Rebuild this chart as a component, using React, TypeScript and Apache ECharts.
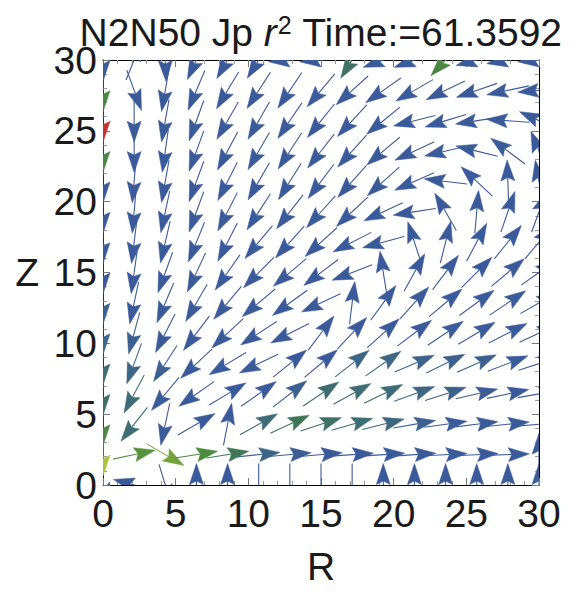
import React, { useEffect, useRef } from "react";
import * as echarts from "echarts";

// Sample points of the vector field (15 x 15 grid over 0..30)
const gridR = [0, 2.143, 4.286, 6.429, 8.571, 10.714, 12.857, 15, 17.143, 19.286, 21.429, 23.571, 25.714, 27.857, 30];
const gridZ = [0, 2.143, 4.286, 6.429, 8.571, 10.714, 12.857, 15, 17.143, 19.286, 21.429, 23.571, 25.714, 27.857, 30];

// Arrow direction (degrees, counter-clockwise from +R) per Z row, R columns
const dirZ00 = [300, 165, 287, 90, 90, 270, 270, 270, 270, 90, 90, 90, 90, 90, 90];
const dirZ01 = [270, 12, 330, 9, 9, 6, 5, 5, 4, 4, 4, 3, 3, 2, 90];
const dirZ02 = [270, 232, 258, 30, 79, 29, 25, 18, 16, 14, 10, 8, 7, 6, 5];
const dirZ03 = [270, 242, 230, 215, 31, 35, 38, 34, 29, 26, 20, 18, 13, 12, 10];
const dirZ04 = [270, 250, 237, 223, 211, 206, 39, 40, 38, 35, 23, 26, 24, 21, 18];
const dirZ05 = [270, 255, 243, 233, 223, 213, 207, 53, 47, 42, 37, 34, 31, 27, 25];
const dirZ06 = [270, 258, 247, 240, 230, 220, 216, 205, 83, 54, 48, 40, 36, 34, 30];
const dirZ07 = [270, 262, 250, 245, 235, 225, 220, 217, 201, 99, 61, 53, 45, 40, 35];
const dirZ08 = [270, 263, 257, 248, 243, 230, 228, 222, 207, 195, 108, 76, 62, 51, 50];
const dirZ09 = [270, 265, 258, 250, 243, 237, 232, 228, 223, 205, 189, 120, 85, 71, 70];
const dirZ10 = [270, 265, 260, 250, 243, 240, 238, 233, 228, 222, 204, 173, 137, 92, 100];
const dirZ11 = [270, 270, 262, 250, 242, 240, 237, 232, 228, 220, 205, 193, 166, 143, 112];
const dirZ12 = [270, 270, 260, 250, 240, 240, 236, 231, 227, 219, 194, 197, 189, 176, 155];
const dirZ13 = [270, 290, 260, 247, 239, 237, 236, 230, 222, 215, 210, 206, 199, 192, 185];
const dirZ14 = [270, 68, 272, 245, 240, 238, 185, 185, 238, 200, 200, 227, 195, 190, 185];

// Relative magnitude (0..1) per Z row, R columns (drives arrow colour)
const magZ00 = [0.1, 0.15, 0.15, 0.1, 0.1, 0.1, 0.1, 0.1, 0.1, 0.1, 0.1, 0.1, 0.1, 0.1, 0.1];
const magZ01 = [0.75, 0.55, 0.62, 0.52, 0.42, 0.25, 0.18, 0.15, 0.15, 0.13, 0.12, 0.12, 0.12, 0.12, 0.1];
const magZ02 = [0.5, 0.32, 0.12, 0.15, 0.12, 0.3, 0.42, 0.38, 0.32, 0.27, 0.2, 0.15, 0.13, 0.12, 0.12];
const magZ03 = [0.35, 0.3, 0.15, 0.12, 0.12, 0.15, 0.2, 0.32, 0.32, 0.3, 0.27, 0.22, 0.18, 0.15, 0.12];
const magZ04 = [0.32, 0.25, 0.2, 0.12, 0.1, 0.1, 0.12, 0.15, 0.25, 0.26, 0.22, 0.2, 0.2, 0.15, 0.12];
const magZ05 = [0.25, 0.2, 0.15, 0.1, 0.1, 0.1, 0.1, 0.12, 0.15, 0.15, 0.15, 0.15, 0.15, 0.12, 0.12];
const magZ06 = [0.2, 0.15, 0.12, 0.1, 0.1, 0.1, 0.1, 0.1, 0.1, 0.12, 0.12, 0.12, 0.12, 0.12, 0.1];
const magZ07 = [0.15, 0.1, 0.1, 0.1, 0.1, 0.1, 0.1, 0.1, 0.1, 0.1, 0.1, 0.1, 0.1, 0.1, 0.1];
const magZ08 = [0.15, 0.1, 0.1, 0.1, 0.1, 0.1, 0.1, 0.1, 0.1, 0.1, 0.1, 0.1, 0.1, 0.1, 0.1];
const magZ09 = [0.15, 0.1, 0.1, 0.1, 0.1, 0.1, 0.1, 0.1, 0.1, 0.1, 0.1, 0.1, 0.1, 0.1, 0.1];
const magZ10 = [0.15, 0.1, 0.1, 0.1, 0.1, 0.1, 0.1, 0.1, 0.1, 0.1, 0.1, 0.1, 0.1, 0.1, 0.1];
const magZ11 = [0.5, 0.1, 0.1, 0.1, 0.1, 0.1, 0.1, 0.1, 0.1, 0.1, 0.1, 0.1, 0.1, 0.1, 0.1];
const magZ12 = [1.0, 0.1, 0.1, 0.1, 0.1, 0.1, 0.1, 0.1, 0.1, 0.1, 0.1, 0.1, 0.1, 0.1, 0.1];
const magZ13 = [0.5, 0.1, 0.1, 0.1, 0.1, 0.1, 0.1, 0.1, 0.1, 0.1, 0.1, 0.1, 0.1, 0.1, 0.1];
const magZ14 = [0.1, 0.1, 0.1, 0.1, 0.1, 0.1, 0.1, 0.1, 0.38, 0.1, 0.1, 0.5, 0.1, 0.1, 0.1];

const tickValues = [0, 5, 10, 15, 20, 25, 30];

const dirRows = [dirZ00, dirZ01, dirZ02, dirZ03, dirZ04, dirZ05, dirZ06, dirZ07, dirZ08, dirZ09, dirZ10, dirZ11, dirZ12, dirZ13, dirZ14];
const magRows = [magZ00, magZ01, magZ02, magZ03, magZ04, magZ05, magZ06, magZ07, magZ08, magZ09, magZ10, magZ11, magZ12, magZ13, magZ14];

const colorStops: [number, string][] = [
  [0.0, "#3b5a9a"],
  [0.15, "#3b5a9a"],
  [0.25, "#3d6586"],
  [0.32, "#3e6d72"],
  [0.42, "#3f7658"],
  [0.52, "#4b8b3e"],
  [0.62, "#72a43b"],
  [0.75, "#a9c33c"],
  [0.88, "#d98a30"],
  [1.0, "#c9302c"],
];

function hexToRgb(h: string) {
  const n = parseInt(h.slice(1), 16);
  return [(n >> 16) & 255, (n >> 8) & 255, n & 255];
}
function magColor(m: number) {
  for (let i = 1; i < colorStops.length; i++) {
    if (m <= colorStops[i][0]) {
      const [m0, c0] = colorStops[i - 1];
      const [m1, c1] = colorStops[i];
      const t = m1 === m0 ? 0 : (m - m0) / (m1 - m0);
      const a = hexToRgb(c0), b = hexToRgb(c1);
      const r = a.map((v, k) => Math.round(v + (b[k] - v) * t));
      return `rgb(${r[0]},${r[1]},${r[2]})`;
    }
  }
  return colorStops[colorStops.length - 1][1];
}

const FONT = "'Liberation Sans', Arial, Helvetica, sans-serif";

export default function App() {
  const ref = useRef<HTMLDivElement>(null);
  useEffect(() => {
    if (!ref.current) return;
    const chart = echarts.init(ref.current, undefined, { renderer: "svg" });

    const data: number[][] = [];
    for (let j = 0; j < gridZ.length; j++) {
      for (let k = 0; k < gridR.length; k++) {
        data.push([gridR[k], gridZ[j], dirRows[j][k], magRows[j][k]]);
      }
    }

    const ARROW_LEN = 43;
    const HEAD_LEN = 21;
    const HEAD_HALF = 7;
    const NOTCH = 3.5;

    const axisCommon = {
      type: "value" as const,
      min: 0,
      max: 30,
      interval: 5,
      splitLine: { show: false },
      axisLine: { show: true, onZero: false, lineStyle: { color: "#000", width: 1 } },
      axisTick: { show: true, inside: true, length: 7, lineStyle: { color: "#777", width: 1 } },
      minorTick: { show: true, splitNumber: 5, length: 4, lineStyle: { color: "#999", width: 1 } },
    };

    const txt = { fontFamily: FONT, fontWeight: "normal" as const, color: "#1a1a1a" };

    chart.setOption({
      animation: false,
      backgroundColor: "#fff",
      title: {
        text: "{a|N2N50 Jp }{i|r}{s|2}{a| Time:=61.3592}",
        left: 313,
        top: 4,
        textAlign: "center",
        padding: 0,
        textStyle: {
          ...txt,
          fontSize: 39,
          rich: {
            a: { ...txt, fontSize: 39, lineHeight: 40 },
            i: { ...txt, fontSize: 39, fontStyle: "italic", lineHeight: 40 },
            s: { ...txt, fontSize: 25, lineHeight: 24, verticalAlign: "top", padding: [0, 0, 0, 1] },
          },
        },
      },
      grid: { left: 95, top: 52, width: 436, height: 437, containLabel: false },
      xAxis: [
        {
          ...axisCommon,
          position: "bottom",
          name: "R",
          nameLocation: "middle",
          nameGap: 62,
          nameTextStyle: { ...txt, fontSize: 39 },
          axisLabel: {
            ...txt,
            fontSize: 39,
            margin: 9,
            formatter: (v: number) => (tickValues.includes(v) ? String(v) : ""),
          },
        },
        { ...axisCommon, position: "top", axisLabel: { show: false } },
      ],
      yAxis: [
        {
          ...axisCommon,
          position: "left",
          name: "Z",
          nameLocation: "middle",
          nameRotate: 0,
          nameGap: 64,
          nameTextStyle: { ...txt, fontSize: 39, lineHeight: 39, padding: [12, 0, 0, 0] },
          axisLabel: {
            ...txt,
            fontSize: 39,
            lineHeight: 16,
            margin: 6,
            formatter: (v: number) => (tickValues.includes(v) ? String(v) : ""),
          },
        },
        { ...axisCommon, position: "right", axisLabel: { show: false } },
      ],
      series: [
        {
          type: "custom",
          coordinateSystem: "cartesian2d",
          xAxisIndex: 0,
          yAxisIndex: 0,
          clip: true,
          silent: true,
          data,
          renderItem: (params: any, api: any) => {
            const R = api.value(0);
            const Z = api.value(1);
            const ang = (api.value(2) * Math.PI) / 180;
            const m = api.value(3);
            const c = api.coord([R, Z]);
            const dx = Math.cos(ang);
            const dy = -Math.sin(ang);
            const tx = c[0] + (dx * ARROW_LEN) / 2;
            const ty = c[1] + (dy * ARROW_LEN) / 2;
            const sx = c[0] - (dx * ARROW_LEN) / 2;
            const sy = c[1] - (dy * ARROW_LEN) / 2;
            const bx = tx - dx * HEAD_LEN;
            const by = ty - dy * HEAD_LEN;
            const nx = tx - dx * (HEAD_LEN - NOTCH);
            const ny = ty - dy * (HEAD_LEN - NOTCH);
            const px = -dy;
            const py = dx;
            const color = magColor(m);
            return {
              type: "group",
              children: [
                {
                  type: "line",
                  shape: { x1: sx, y1: sy, x2: nx, y2: ny },
                  style: { stroke: color, lineWidth: 1.1 },
                },
                {
                  type: "polygon",
                  shape: {
                    points: [
                      [tx, ty],
                      [bx + px * HEAD_HALF, by + py * HEAD_HALF],
                      [nx, ny],
                      [bx - px * HEAD_HALF, by - py * HEAD_HALF],
                    ],
                  },
                  style: { fill: color, stroke: color, lineWidth: 0.5 },
                },
              ],
            };
          },
        },
      ],
    });
    return () => chart.dispose();
  }, []);
  return <div ref={ref} style={{ width: 556, height: 583 }} />;
}
